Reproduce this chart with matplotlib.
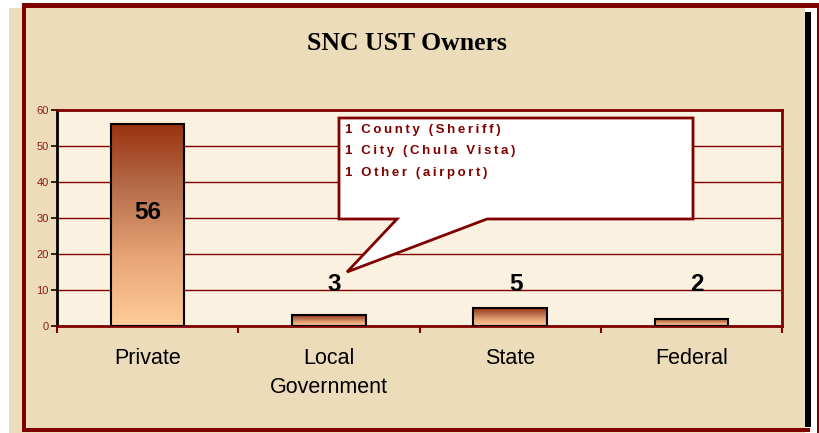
import matplotlib
matplotlib.use("Agg")
import matplotlib.pyplot as plt
import numpy as np
from matplotlib.patches import Rectangle, Polygon
from matplotlib.colors import LinearSegmentedColormap

# ---- data ----
categories = ["Private", "Local\nGovernment", "State", "Federal"]
values = [56, 3, 5, 2]
value_labels = ["56", "3", "5", "2"]
yticks = [0, 10, 20, 30, 40, 50, 60]
title = "SNC UST Owners"
callout_lines = ["1 County (Sheriff)", "1 City (Chula Vista)", "1 Other (airport)"]

W, H = 819, 433
fig = plt.figure(figsize=(W / 100, H / 100), dpi=100, facecolor="white")

def fx(px):
    return px / W

def fy(py):
    return 1 - py / H

DARKRED = "#800000"
PARCH = "#EDDCB9"

# ---- background frame ----
fig.add_artist(Rectangle((fx(9), fy(433)), fx(805) - fx(9), fy(8) - fy(433),
                         transform=fig.transFigure, facecolor=PARCH, edgecolor="none", zorder=-5))
# red borders
fig.add_artist(Rectangle((fx(22), fy(7.5)), fx(819) - fx(22), fy(3) - fy(7.5),
                         transform=fig.transFigure, facecolor=DARKRED, edgecolor="none", zorder=-4))
fig.add_artist(Rectangle((fx(22), fy(431)), fx(26) - fx(22), fy(3) - fy(431),
                         transform=fig.transFigure, facecolor=DARKRED, edgecolor="none", zorder=-4))
fig.add_artist(Rectangle((fx(22), fy(431.5)), fx(810) - fx(22), fy(427.5) - fy(431.5),
                         transform=fig.transFigure, facecolor=DARKRED, edgecolor="none", zorder=-4))
fig.add_artist(Rectangle((fx(817), fy(433)), fx(819) - fx(817), fy(3) - fy(433),
                         transform=fig.transFigure, facecolor=DARKRED, edgecolor="none", zorder=-4))
# black shadow bar at right
fig.add_artist(Rectangle((fx(805), fy(427)), fx(811) - fx(805), fy(12) - fy(427),
                         transform=fig.transFigure, facecolor="black", edgecolor="none", zorder=-4))

# ---- title ----
fig.text(fx(407), fy(44), title, ha="center", va="center",
         fontfamily="Liberation Serif", fontweight="bold", fontsize=18.5, color="black")

# ---- axes ----
L, R, T, B = 57, 782, 110, 326
ax = fig.add_axes([fx(L), fy(B), fx(R) - fx(L), fy(T) - fy(B)])
ax.set_facecolor("#FAF1E0")

x = np.arange(len(categories))
cmap = LinearSegmentedColormap.from_list("brn", ["#FFCC99", "#E8A678", "#B8704C", "#993311"])
grad = np.linspace(0, 1, 256).reshape(-1, 1)
bars = ax.bar(x, values, width=0.405, facecolor="none", edgecolor="black", linewidth=1.5, zorder=3)
for b in bars:
    x0, y0 = b.get_x(), b.get_y()
    im = ax.imshow(grad, cmap=cmap, origin="lower", aspect="auto",
                   extent=[x0, x0 + b.get_width(), y0, y0 + b.get_height()], zorder=2)
    im.set_clip_path(b)
ax.set_xlim(-0.5, len(categories) - 0.5)
ax.set_ylim(0, 60)

# grid
ax.set_yticks(yticks)
ax.set_yticklabels([str(v) for v in yticks])
ax.yaxis.grid(True, color=DARKRED, linewidth=1.0, zorder=1)
ax.set_axisbelow(True)
ax.tick_params(axis="y", colors="#1a0000", labelcolor="#8B1A1A", labelsize=8,
               length=4, width=1.2, pad=2, direction="out")
for lbl in ax.get_yticklabels():
    lbl.set_fontfamily("Liberation Sans")

ax.set_xticks(np.arange(-0.5, len(categories), 1.0))
ax.set_xticklabels([])
ax.tick_params(axis="x", colors=DARKRED, length=5, width=1.5, direction="out")

for side in ["top", "right", "bottom"]:
    ax.spines[side].set_color(DARKRED)
    ax.spines[side].set_linewidth(2)
ax.spines["left"].set_color("black")
ax.spines["left"].set_linewidth(2)

# category labels
for xi, cat in zip(x, categories):
    ax.text(xi, -0.1, cat, transform=ax.get_xaxis_transform(), ha="center", va="top",
            fontfamily="Liberation Sans", fontsize=15.5, color="black", linespacing=1.5)

# value labels
for xi, v, lab in zip(x, values, value_labels):
    if v > 20:
        ty, dx = v * 0.565, 0.0
    else:
        ty, dx = 11.4, 0.03
    ax.text(xi + dx, ty, lab, ha="center", va="center", fontfamily="Liberation Sans",
            fontweight="bold", fontsize=17.5, color="black", zorder=5)

# ---- callout ----
pts_px = [(339, 118), (693, 118), (693, 219), (487, 219), (347, 272), (397, 219), (339, 219)]
poly = Polygon([(fx(a), fy(b)) for a, b in pts_px], closed=True, transform=fig.transFigure,
               facecolor="white", edgecolor=DARKRED, linewidth=2, joinstyle="miter", zorder=10)
fig.add_artist(poly)
for i, line in enumerate(callout_lines):
    spaced = "\u2009".join(line)
    fig.text(fx(345), fy(129.5 + 21.8 * i), spaced, ha="left", va="center",
             fontfamily=["Liberation Sans", "DejaVu Sans"], fontweight="bold",
             fontsize=9.5, color=DARKRED, zorder=11)

fig.savefig("out.png", dpi=100, facecolor="white")
